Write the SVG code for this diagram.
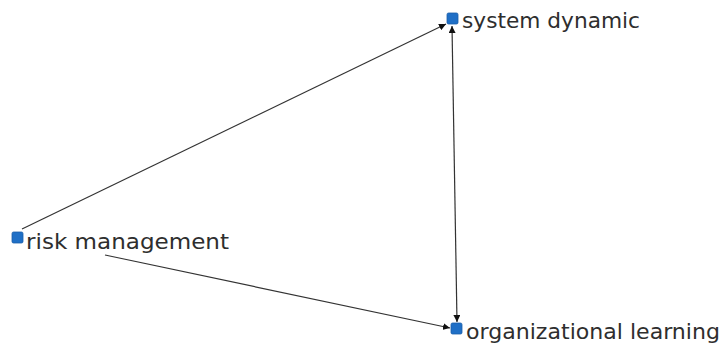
<svg xmlns="http://www.w3.org/2000/svg" width="726" height="350" viewBox="0 0 726 350">
<style>
.node rect{fill:#1f6fc6;stroke:#1a5ea8;stroke-width:0.8}
.node text{font-family:"DejaVu Sans",Verdana,sans-serif;font-size:21px;fill:#2e2e2e}
.edge{stroke:#333;stroke-width:1.2;fill:none}
</style>
<defs>
<marker id="ah" viewBox="0 0 10 10" refX="10" refY="5" markerWidth="7" markerHeight="7" orient="auto-start-reverse" markerUnits="userSpaceOnUse">
<path d="M0,0 L10,5 L0,10 z" fill="#111"/>
</marker>
</defs>
<rect width="726" height="350" fill="#fff"/>
<g id="connectors">
<line class="edge" x1="22" y1="229" x2="446" y2="24" marker-end="url(#ah)"/>
<line class="edge" x1="105" y1="255" x2="450" y2="328" marker-end="url(#ah)"/>
<line class="edge" x1="452" y1="26" x2="457" y2="322" marker-start="url(#ah)" marker-end="url(#ah)"/>
</g>
<g id="system-dynamic" class="node">
<rect x="447" y="13" width="11" height="11" rx="1.5"/>
<text x="462" y="28" textLength="178" lengthAdjust="spacingAndGlyphs">system dynamic</text>
</g>
<g id="risk-management" class="node">
<rect x="12" y="232" width="11" height="11" rx="1.5"/>
<text x="26" y="249" textLength="203" lengthAdjust="spacingAndGlyphs">risk management</text>
</g>
<g id="organizational-learning" class="node">
<rect x="451" y="323" width="11" height="11" rx="1.5"/>
<text x="466" y="339" textLength="254" lengthAdjust="spacingAndGlyphs">organizational learning</text>
</g>
</svg>
